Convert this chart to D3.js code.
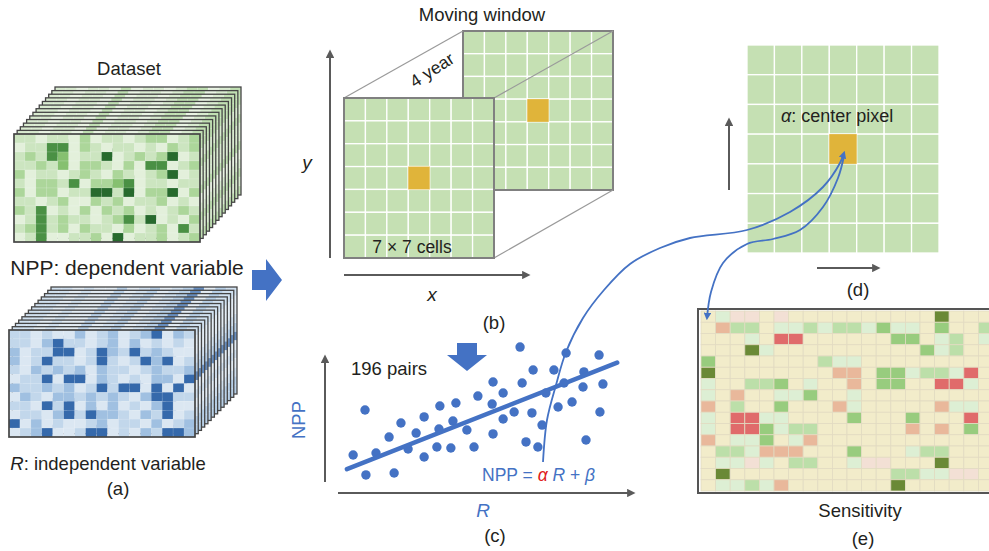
<!DOCTYPE html>
<html>
<head>
<meta charset="utf-8">
<script src="https://cdn.jsdelivr.net/npm/d3@7"></script>
<style>
  body { margin: 0; background: #fff; }
  svg { display: block; font-family: "Liberation Sans", Arial, sans-serif; }
</style>
</head>
<body>
<div id="chart"></div>
<script>
// ---- data ----
// dataset layers: one string per row, digit = shade level
const nppGrid = [
  '11011020110122012',
  '01144021011010212',
  '12143011501212501',
  '11213022102044012',
  '20110121021012501',
  '10221402234011011',
  '20220115515022502',
  '11012002120112010',
  '21401020212010121',
  '01412110124150102',
  '12412021102012041',
  '01400112050112012'
];
const rGrid = [
  '11010020120124021',
  '11024110120201010',
  '20114401421412100',
  '20141101410142401',
  '10212120211012112',
  '01140440210102204',
  '21121201414404040',
  '02102212121024411',
  '11041402020102400',
  '01102414221021401',
  '40201001201102012',
  '01240014401021442'
];
// sensitivity map (e): 0 none, 1-4 greens, 5-7 reds
const sensGrid = [
  '01550500000000004000',
  '06220112122131103002',
  '00010770000003301201',
  '00041000000000031200',
  '30000000211000000000',
  '40000000066033122170',
  '10022301006033007710',
  '10600113001000000000',
  '60200300061000006110',
  '10771100003000300070',
  '10773122000000606030',
  '60113016000000000000',
  '02216660003000122000',
  '01151022001550004000',
  '04000000000002211550',
  '01121600000004000000'
];
// scatter (c): 196 pairs sample
const scatterR   = [0.91, 0.51, 0.94, 1.28, 1.72, 1.89, 2.12, 2.36, 2.63, 2.90, 2.90, 3.33, 3.40, 3.43, 3.80,
                    3.87, 3.97, 4.34, 4.58, 4.71, 5.19, 5.22, 5.22, 5.56, 5.56, 5.93, 6.13, 6.20, 6.33, 6.53,
                    6.57, 6.73, 6.87, 7.00, 7.27, 7.41, 7.61, 7.68, 7.88, 8.25, 8.28, 8.35, 8.79, 8.82, 8.92];
const scatterNpp = [5.61, 2.57, 1.22, 2.70, 3.78, 1.35, 4.73, 2.97, 4.05, 5.14, 2.43, 3.11, 4.32, 5.88, 3.04,
                    4.86, 6.08, 4.26, 3.11, 6.55, 6.01, 3.99, 7.50, 6.76, 5.00, 5.47, 9.86, 7.43, 3.45, 5.41,
                    8.31, 3.11, 4.59, 6.76, 8.31, 5.81, 7.43, 9.46, 6.15, 7.16, 8.18, 3.58, 9.32, 5.47, 7.36];
const fitAlpha = 0.79;
const fitBeta = 1.38;
const fitRange = [0.3, 9.4];
const windowCells = 7;
const stackLayers = 14;

// ---- styles ----
const greenShades = ['#e3f0db', '#cce5c0', '#acd69a', '#86c070', '#4a9044', '#276a2d'];
const blueShades = ['#dbe7f2', '#c2d7eb', '#a0c0e1', '#6f9bcf', '#3569ab'];
const sensShades = ['#f2ecca', '#ddefd4', '#bcdfa9', '#98cc7e', '#6a8936', '#f3e0d5', '#e9b89b', '#e06b6b'];
const blue = '#4472c4';
const gray = '#5a5a5a';
const ink = '#231f20';
const winGreen = '#c5e0b3';
const winYellow = '#e0b43a';

const W = 989, H = 551;
const svg = d3.select('#chart').append('svg').attr('width', W).attr('height', H);
const defs = svg.append('defs');

function marker(id, color) {
  defs.append('marker').attr('id', id).attr('viewBox', '0 0 10 10')
    .attr('refX', 7).attr('refY', 5).attr('markerWidth', 4.2).attr('markerHeight', 4.2)
    .attr('orient', 'auto')
    .append('path').attr('d', 'M0,0L10,5L0,10z').attr('fill', color);
}
marker('grayHead', gray);
marker('blueHead', blue);

function cellsOf(grid) {
  return grid.flatMap((row, r) => row.split('').map((v, c) => ({ r, c, v: +v })));
}

function label(x, y, txt, size, opts = {}) {
  const t = svg.append('text').attr('x', x).attr('y', y)
    .attr('font-size', size).attr('fill', opts.fill || ink)
    .attr('text-anchor', opts.anchor || 'middle');
  if (opts.italic) t.attr('font-style', 'italic');
  if (opts.transform) t.attr('transform', opts.transform);
  t.text(txt);
  return t;
}

function arrowLine(x1, y1, x2, y2, color, head) {
  svg.append('line').attr('x1', x1).attr('y1', y1).attr('x2', x2).attr('y2', y2)
    .attr('stroke', color).attr('stroke-width', 2).attr('marker-end', `url(#${head})`);
}

// ---- (a) stacked dataset layers ----
function drawStack(grid, shades, x0, y0, w, h, dx, dy) {
  const cells = cellsOf(grid);
  const xs = d3.scaleBand().domain(d3.range(grid[0].length)).range([0, w]);
  const ys = d3.scaleBand().domain(d3.range(grid.length)).range([0, h]);
  const g = svg.append('g');
  for (let k = stackLayers - 1; k >= 0; k--) {
    const lg = g.append('g').attr('transform', `translate(${x0 + dx * k},${y0 + dy * k})`);
    lg.selectAll('rect.cell').data(cells).join('rect').attr('class', 'cell')
      .attr('x', d => xs(d.c)).attr('y', d => ys(d.r))
      .attr('width', xs.bandwidth()).attr('height', ys.bandwidth())
      .attr('fill', d => shades[d.v])
      .attr('stroke', 'rgba(255,255,255,0.25)').attr('stroke-width', 0.5);
    if (k > 0) {
      lg.append('rect').attr('width', w).attr('height', h)
        .attr('fill', '#fff').attr('fill-opacity', 0.25);
    }
    lg.append('rect').attr('width', w).attr('height', h).attr('fill', 'none')
      .attr('stroke', '#454545').attr('stroke-width', k ? 1.3 : 1.7);
  }
}

label(129, 75, 'Dataset', 18.5);
drawStack(nppGrid, greenShades, 14, 134, 186, 108, 41 / (stackLayers - 1), -47 / (stackLayers - 1));
label(127, 275, 'NPP: dependent variable', 21);
drawStack(rGrid, blueShades, 9, 330, 186, 107, 42 / (stackLayers - 1), -43 / (stackLayers - 1));
const rLab = svg.append('text').attr('x', 108).attr('y', 470).attr('font-size', 18.5)
  .attr('fill', ink).attr('text-anchor', 'middle');
rLab.append('tspan').attr('font-style', 'italic').text('R');
rLab.append('tspan').text(': independent variable');
label(118, 495, '(a)', 18.5);

// block arrow a -> b
svg.append('path')
  .attr('d', 'M252,270 L266,270 L266,259 L282,280 L266,301 L266,290 L252,290 Z')
  .attr('fill', blue);

// ---- (b) moving window ----
function drawWindow(x0, y0, w, h) {
  const cells = d3.cross(d3.range(windowCells), d3.range(windowCells)).map(([r, c]) => ({ r, c }));
  const xs = d3.scaleBand().domain(d3.range(windowCells)).range([0, w]);
  const ys = d3.scaleBand().domain(d3.range(windowCells)).range([0, h]);
  const mid = Math.floor(windowCells / 2);
  const g = svg.append('g').attr('transform', `translate(${x0},${y0})`);
  g.selectAll('rect.cell').data(cells).join('rect').attr('class', 'cell')
    .attr('x', d => xs(d.c)).attr('y', d => ys(d.r))
    .attr('width', xs.bandwidth()).attr('height', ys.bandwidth())
    .attr('fill', d => (d.r === mid && d.c === mid) ? winYellow : winGreen)
    .attr('stroke', '#fff').attr('stroke-width', 1.3);
  g.append('rect').attr('x', xs(mid)).attr('y', ys(mid))
    .attr('width', xs.bandwidth()).attr('height', ys.bandwidth()).attr('fill', winYellow);
  return g;
}

label(482, 21, 'Moving window', 18.5);
const back = drawWindow(463, 31, 150, 159);
back.append('rect').attr('width', 150).attr('height', 159).attr('fill', 'none')
  .attr('stroke', '#808080').attr('stroke-width', 2);
[[344, 98, 463, 31], [494, 98, 613, 31], [494, 258, 613, 190]].forEach(([a, b, c, d]) => {
  svg.append('line').attr('x1', a).attr('y1', b).attr('x2', c).attr('y2', d)
    .attr('stroke', '#9a9a9a').attr('stroke-width', 1.2);
});
const front = drawWindow(344, 98, 150, 160);
front.append('rect').attr('width', 150).attr('height', 160).attr('fill', 'none')
  .attr('stroke', '#808080').attr('stroke-width', 2);
label(432, 76, '4 year', 17.5, { transform: 'rotate(-33,432,70)' });
label(412, 253, '7 \u00d7 7 cells', 17.5);
arrowLine(330, 258, 330, 52, gray, 'grayHead');
arrowLine(344, 275, 528, 275, gray, 'grayHead');
label(307, 169, 'y', 19, { italic: true });
label(432, 301, 'x', 19, { italic: true });
label(494, 329, '(b)', 18.5);

// ---- (c) regression ----
const xC = d3.scaleLinear().domain([0, 10]).range([338, 635]);
const yC = d3.scaleLinear().domain([0, 10]).range([493, 345]);

svg.append('path')
  .attr('d', 'M457,343 L477,343 L477,355 L487,355 L467,371 L447,355 L457,355 Z')
  .attr('fill', blue);
label(389, 375, '196 pairs', 18.5);
arrowLine(325, 482, 325, 357, gray, 'grayHead');
arrowLine(338, 493, 633, 493, gray, 'grayHead');
label(305, 420, 'NPP', 18.5, { fill: blue, transform: 'rotate(-90,305,420)' });
label(483, 517, 'R', 19, { fill: blue, italic: true });
label(495, 542, '(c)', 18.5);

svg.append('g').selectAll('circle').data(scatterR.map((r, i) => ({ r, n: scatterNpp[i] })))
  .join('circle').attr('cx', d => xC(d.r)).attr('cy', d => yC(d.n)).attr('r', 4.7).attr('fill', blue);
svg.append('line')
  .attr('x1', xC(fitRange[0])).attr('y1', yC(fitAlpha * fitRange[0] + fitBeta))
  .attr('x2', xC(fitRange[1])).attr('y2', yC(fitAlpha * fitRange[1] + fitBeta))
  .attr('stroke', blue).attr('stroke-width', 4.5).attr('stroke-linecap', 'round');

const eq = svg.append('text').attr('x', 482).attr('y', 481).attr('font-size', 17.5).attr('fill', blue);
eq.append('tspan').text('NPP = ');
eq.append('tspan').attr('fill', '#e02020').attr('font-style', 'italic').text('\u03b1');
eq.append('tspan').text(' ');
eq.append('tspan').attr('font-style', 'italic').text('R');
eq.append('tspan').text(' + ');
eq.append('tspan').attr('font-style', 'italic').text('\u03b2');

// ---- (d) center pixel ----
drawWindow(747, 45, 192, 208);
const dLab = svg.append('text').attr('x', 781).attr('y', 122).attr('font-size', 18).attr('fill', ink);
dLab.append('tspan').attr('font-style', 'italic').text('\u03b1');
dLab.append('tspan').text(': center pixel');
arrowLine(729, 190, 729, 120, gray, 'grayHead');
arrowLine(817, 268, 878, 268, gray, 'grayHead');
label(858, 296, '(d)', 18.5);

// ---- (e) sensitivity ----
const sCells = cellsOf(sensGrid);
const xs = d3.scaleBand().domain(d3.range(sensGrid[0].length)).range([701, 993]);
const ys = d3.scaleBand().domain(d3.range(sensGrid.length)).range([311, 491]);
svg.append('g').selectAll('rect').data(sCells).join('rect')
  .attr('x', d => xs(d.c)).attr('y', d => ys(d.r))
  .attr('width', xs.bandwidth()).attr('height', ys.bandwidth())
  .attr('fill', d => sensShades[d.v])
  .attr('stroke', '#e2dbc1').attr('stroke-width', 0.8);
svg.append('rect').attr('x', 698).attr('y', 309).attr('width', 300).attr('height', 184)
  .attr('fill', 'none').attr('stroke', '#555').attr('stroke-width', 2);
label(860, 517, 'Sensitivity', 18.5);
label(863, 545, '(e)', 18.5);

// ---- connectors ----
const curve = d3.line().curve(d3.curveCatmullRom.alpha(0.5));
svg.append('path')
  .attr('d', curve([[543, 462], [547, 420], [556, 385], [566, 352], [583, 318], [604, 290], [630, 264],
                    [660, 248], [690, 238], [747, 230], [790, 212], [823, 187], [840, 163], [844, 153]]))
  .attr('fill', 'none').attr('stroke', blue).attr('stroke-width', 1.8).attr('marker-end', 'url(#blueHead)');
svg.append('path')
  .attr('d', curve([[844, 156], [838, 178], [823, 207], [800, 230], [773, 239], [747, 244], [723, 263],
                    [711, 292], [707, 318]]))
  .attr('fill', 'none').attr('stroke', blue).attr('stroke-width', 1.8).attr('marker-end', 'url(#blueHead)');
</script>
</body>
</html>
